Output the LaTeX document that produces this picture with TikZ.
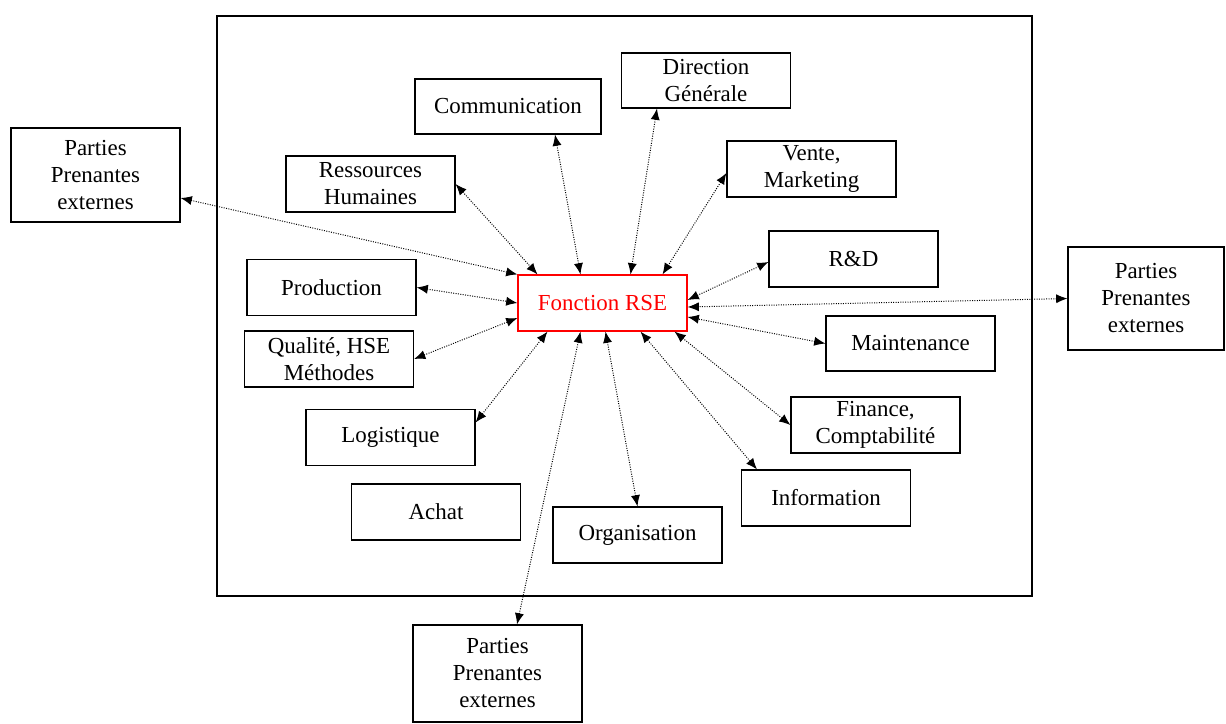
\documentclass[tikz,border=0pt]{standalone}
\usepackage{fontspec}
\setmainfont{Liberation Serif}
\usepackage{tikz}
\usetikzlibrary{shapes, arrows.meta, positioning, calc}
\tikzstyle{block}=[draw,fill=white,rectangle,line width=0.8pt,inner sep=0pt,minimum width=4.225cm,minimum height=1.4cm,align=center]
\tikzstyle{every node}=[font=\fontsize{16.3}{19.2}\selectfont]
\tikzstyle{lien}=[<->,densely dotted,line width=0.7pt]

\begin{document}
\begin{tikzpicture}[x=0.025cm,y=-0.025cm,>={Latex[length=8pt,width=6.5pt]}]
  \useasboundingbox (0,0) rectangle (1226,724);
  \node[draw,line width=1.1pt,minimum width=20.375cm,minimum height=14.5cm] (entreprise) at (624.5,306) {};
  % fonction centrale
  \node[block, draw=red, text=red] (rse) at (602.5,303) {Fonction RSE};
  % services internes
  \node[block, minimum width=4.65cm, minimum height=1.375cm] (comm) at (508,106.5) {Communication};
  \node[block, minimum height=1.375cm] (dir) at (706,80.5) {Direction\\Générale};
  \node[block] (rh) at (370.5,184) {Ressources\\Humaines};
  \node[block] (vente) at (811.5,169) {Vente,\\Marketing};
  \node[block] (rd) at (853.5,259) {R\&D};
  \node[block, minimum height=1.375cm] (maint) at (910.5,343.5) {Maintenance};
  \node[block] (fin) at (875.5,425) {Finance,\\Comptabilité};
  \node[block] (info) at (826,498) {Information};
  \node[block] (orga) at (637.5,535) {Organisation};
  \node[block] (achat) at (436,512) {Achat};
  \node[block] (logi) at (390.5,437.5) {Logistique};
  \node[block] (qual) at (329,359) {Qualité, HSE\\Méthodes};
  \node[block] (prod) at (331.5,287.5) {Production};
  % parties prenantes externes
  \node[block, minimum height=2.35cm] (ppl) at (95.5,175) {Parties\\Prenantes\\externes};
  \node[block, minimum width=3.9cm, minimum height=2.575cm] (ppr) at (1146,298.5) {Parties\\Prenantes\\externes};
  \node[block, minimum height=2.425cm] (ppb) at (497.5,673.5) {Parties\\Prenantes\\externes};
  % liens
  \draw[lien] ($(ppl.east)+(0,23)$) -- (rse.north west);
  \draw[lien] (rh.east) -- ($(rse.north)+(-65,0)$);
  \draw[lien] ($(comm.south)+(47,0)$) -- ($(rse.north)+(-22,0)$);
  \draw[lien] ($(dir.south)+(-49,0)$) -- ($(rse.north)+(28,0)$);
  \draw[lien] ($(vente.west)+(0,4)$) -- ($(rse.north)+(60,0)$);
  \draw[lien] ($(rd.west)+(0,3)$) -- ($(rse.east)+(0,-3)$);
  \draw[lien] (ppr.west) -- ($(rse.east)+(0,4)$);
  \draw[lien] (maint.west) -- ($(rse.east)+(0,14)$);
  \draw[lien] (fin.west) -- ($(rse.south)+(72,0)$);
  \draw[lien] ($(info.north)+(-69,0)$) -- ($(rse.south)+(38,0)$);
  \draw[lien] (orga.north) -- ($(rse.south)+(3,0)$);
  \draw[lien] ($(ppb.north)+(19.5,0)$) -- ($(rse.south)+(-22,0)$);
  \draw[lien] ($(logi.east)+(0,-15)$) -- ($(rse.south)+(-55,0)$);
  \draw[lien] (qual.east) -- ($(rse.west)+(0,15)$);
  \draw[lien] (prod.east) -- (rse.west);
\end{tikzpicture}
\end{document}
